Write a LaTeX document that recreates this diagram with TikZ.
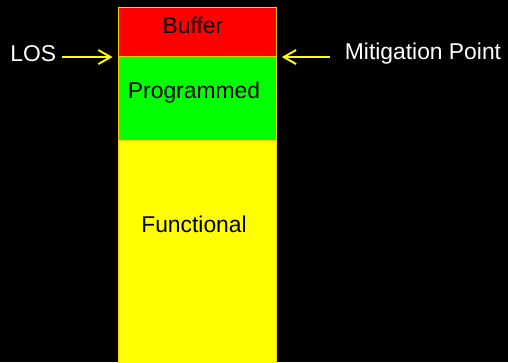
\documentclass[tikz,border=0pt]{standalone}
\usepackage{fontspec}
\setmainfont{Liberation Sans}
\usetikzlibrary{arrows.meta}
\definecolor{rimcol}{RGB}{255,204,0}
\definecolor{bufred}{RGB}{255,0,0}
\definecolor{proggreen}{RGB}{0,255,0}
\definecolor{funcyellow}{RGB}{255,255,0}

\begin{document}
\begin{tikzpicture}[
		layer/.style={draw=rimcol, line width=0.6pt, minimum width=3.16cm, inner sep=0pt, anchor=north west},
		txt/.style={font=\fontsize{13}{15}\selectfont},
		pointer/.style={draw=funcyellow, line width=1.1pt, -{Straight Barb[length=7pt,width=8pt]}}
	]
	%%%%% START %%%%%
	
	\fill[black] (0, 0) rectangle (10.16, 7.24);
	\useasboundingbox (0, 0) rectangle (10.16, 7.24);
	
	\node[layer, fill=funcyellow, minimum height=4.54cm] (functional) at (2.35, 4.44) {};
	\node[layer, fill=proggreen, minimum height=1.68cm] (programmed) at (2.35, 6.12) {};
	\node[layer, fill=bufred, minimum height=0.98cm] (buffer) at (2.35, 7.10) {};
	
	\node[txt] (buffertxt) at (3.86, 6.73) {Buffer};
	\node[txt] (programmedtxt) at (3.88, 5.38) {Programmed};
	\node[txt] (functionaltxt) at (3.88, 2.76) {Functional};
	
	\node[txt, text=white] (los) at (0.667, 6.17) {LOS};
	\node[txt, text=white] (mitpt) at (8.46, 6.17) {Mitigation Point};
	
	\draw[pointer] (los.east |- buffer.south west) -- ([xshift=-2.8pt]buffer.south west);
	\draw[pointer, shorten <=4.8pt] (mitpt.west |- buffer.south east) -- ([xshift=3pt]buffer.south east);
	
	%%%%% END %%%%%
\end{tikzpicture}
\end{document}
